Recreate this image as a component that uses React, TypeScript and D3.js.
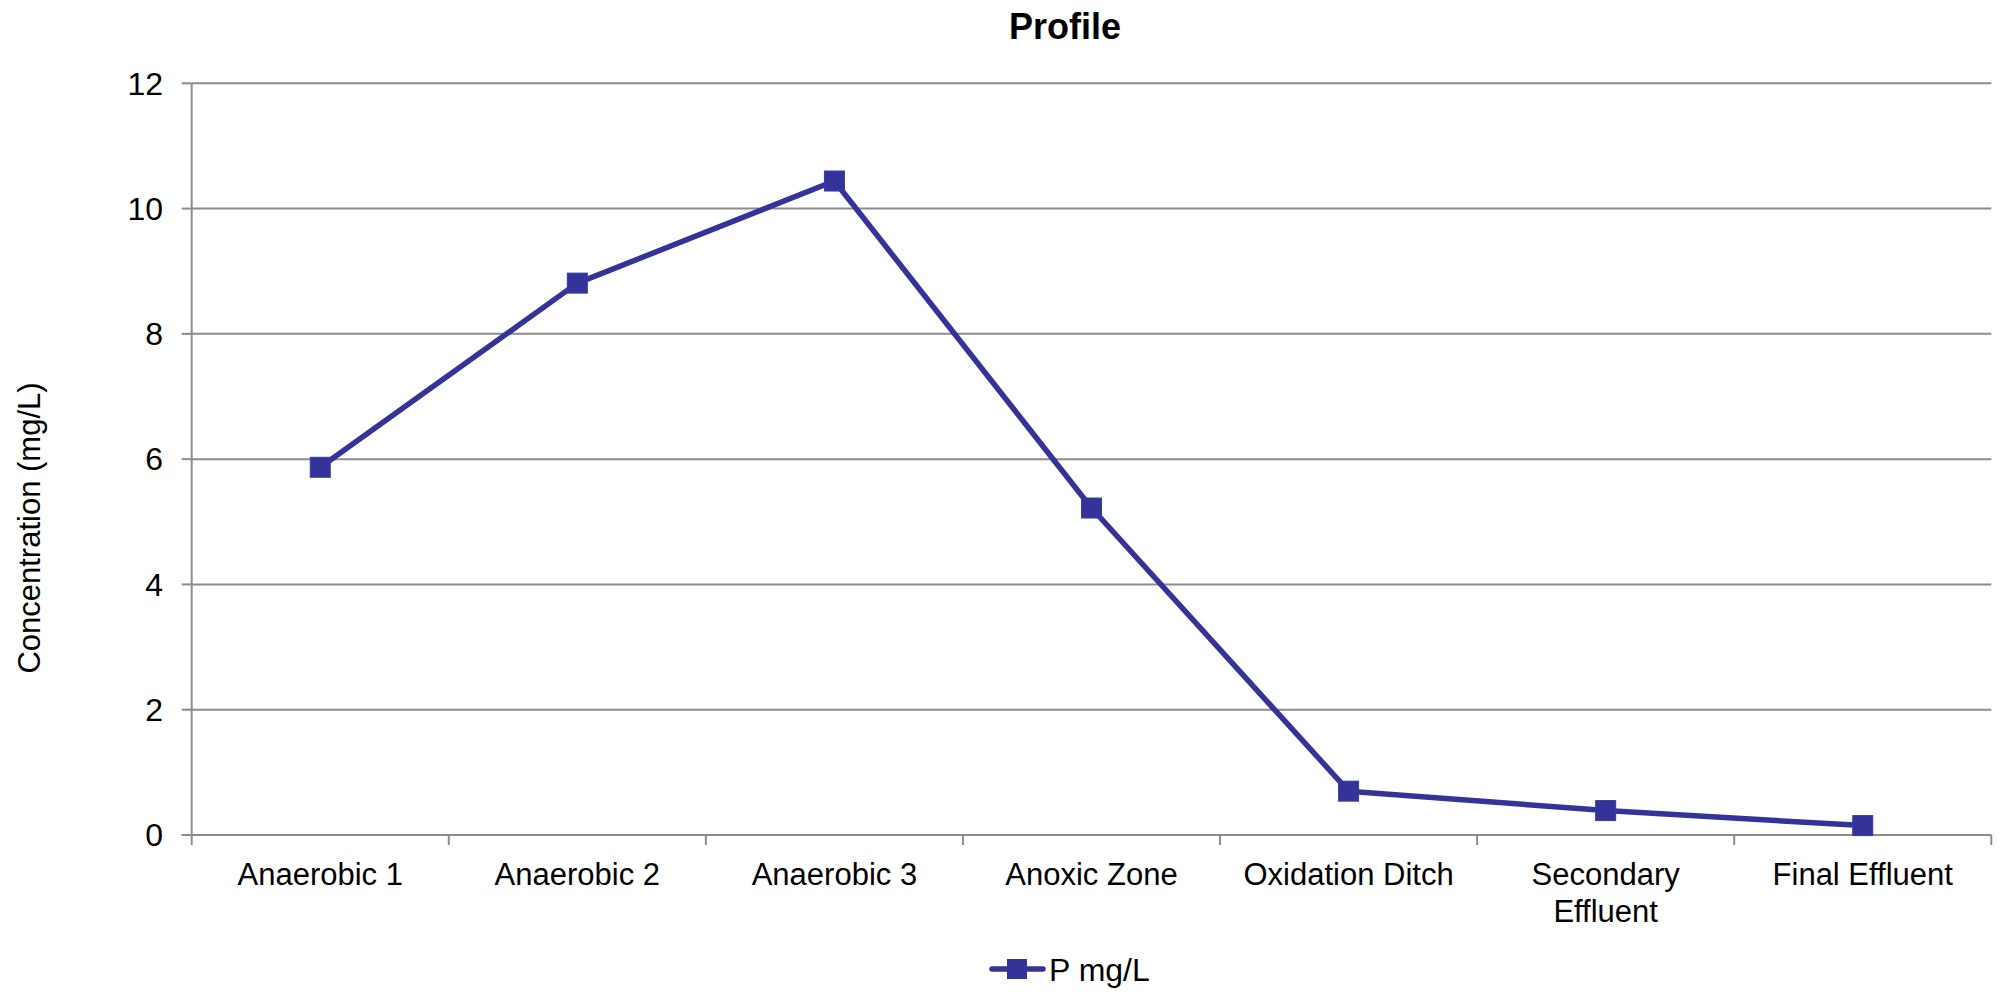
import React, { useEffect, useRef } from "react";
import * as d3 from "d3";

const categories: string[][] = [
  ["Anaerobic 1"],
  ["Anaerobic 2"],
  ["Anaerobic 3"],
  ["Anoxic Zone"],
  ["Oxidation Ditch"],
  ["Secondary", "Effluent"],
  ["Final Effluent"],
];
const pValues: number[] = [5.87, 8.81, 10.44, 5.22, 0.7, 0.39, 0.15];
const yTicks: number[] = [0, 2, 4, 6, 8, 10, 12];
const seriesName = "P mg/L";
const chartTitle = "Profile";
const yTitle = "Concentration (mg/L)";

const W = 1999;
const H = 995;
const FONT = "'Liberation Sans', Arial, sans-serif";
const LINE = "#333399";
const GRID = "#8c8c8c";

export default function App() {
  const ref = useRef<SVGSVGElement | null>(null);

  useEffect(() => {
    const svg = d3.select(ref.current);
    svg.selectAll("*").remove();

    const left = 191.7;
    const right = 1991.3;
    const top = 83.3;
    const bottom = 835;

    const x = d3
      .scaleBand<number>()
      .domain(categories.map((_, i) => i))
      .range([left, right])
      .paddingInner(0)
      .paddingOuter(0);
    const y = d3.scaleLinear().domain([0, 12]).range([bottom, top]);

    // title
    svg
      .append("text")
      .attr("x", 1065)
      .attr("y", 39)
      .attr("text-anchor", "middle")
      .attr("font-family", FONT)
      .attr("font-weight", "bold")
      .attr("font-size", 36)
      .attr("fill", "#000")
      .text(chartTitle);

    // gridlines
    svg
      .append("g")
      .selectAll("line")
      .data(yTicks.filter((t) => t !== 0))
      .join("line")
      .attr("x1", left)
      .attr("x2", right)
      .attr("y1", (d) => y(d))
      .attr("y2", (d) => y(d))
      .attr("stroke", GRID)
      .attr("stroke-width", 2);

    // y axis
    svg
      .append("line")
      .attr("x1", left)
      .attr("x2", left)
      .attr("y1", top)
      .attr("y2", bottom)
      .attr("stroke", GRID)
      .attr("stroke-width", 2);
    svg
      .append("g")
      .selectAll("line")
      .data(yTicks)
      .join("line")
      .attr("x1", left - 10)
      .attr("x2", left)
      .attr("y1", (d) => y(d))
      .attr("y2", (d) => y(d))
      .attr("stroke", GRID)
      .attr("stroke-width", 2);
    svg
      .append("g")
      .selectAll("text")
      .data(yTicks)
      .join("text")
      .attr("x", 163)
      .attr("y", (d) => y(d))
      .attr("dy", "0.35em")
      .attr("text-anchor", "end")
      .attr("font-family", FONT)
      .attr("font-size", 32)
      .attr("fill", "#000")
      .text((d) => String(d));

    // x axis
    svg
      .append("line")
      .attr("x1", left - 10)
      .attr("x2", right)
      .attr("y1", bottom)
      .attr("y2", bottom)
      .attr("stroke", GRID)
      .attr("stroke-width", 2);
    const xTickPos = categories.map((_, i) => x(i) as number).concat([right]);
    svg
      .append("g")
      .selectAll("line")
      .data(xTickPos)
      .join("line")
      .attr("x1", (d) => d)
      .attr("x2", (d) => d)
      .attr("y1", bottom)
      .attr("y2", bottom + 10)
      .attr("stroke", GRID)
      .attr("stroke-width", 2);

    const cx = (i: number) => (x(i) as number) + x.bandwidth() / 2;

    const labels = svg
      .append("g")
      .selectAll("text")
      .data(categories)
      .join("text")
      .attr("x", (_, i) => cx(i))
      .attr("y", 885)
      .attr("text-anchor", "middle")
      .attr("font-family", FONT)
      .attr("font-size", 31)
      .attr("fill", "#000");
    labels
      .selectAll("tspan")
      .data((d) => d)
      .join("tspan")
      .attr("x", function () {
        return (this.parentNode as SVGTextElement).getAttribute("x");
      })
      .attr("dy", (_, j) => (j === 0 ? 0 : 37))
      .text((d) => d);

    // y title
    svg
      .append("text")
      .attr("transform", `translate(29,528) rotate(-90)`)
      .attr("text-anchor", "middle")
      .attr("dy", "0.35em")
      .attr("font-family", FONT)
      .attr("font-size", 31)
      .attr("fill", "#000")
      .text(yTitle);

    // line
    const line = d3
      .line<number>()
      .x((_, i) => cx(i))
      .y((d) => y(d));
    svg
      .append("path")
      .datum(pValues)
      .attr("d", line)
      .attr("fill", "none")
      .attr("stroke", LINE)
      .attr("stroke-width", 5.5)
      .attr("stroke-linejoin", "round");

    const ms = 20;
    svg
      .append("g")
      .selectAll("rect")
      .data(pValues)
      .join("rect")
      .attr("x", (_, i) => cx(i) - ms / 2)
      .attr("y", (d) => y(d) - ms / 2)
      .attr("width", ms)
      .attr("height", ms)
      .attr("fill", LINE)
      .attr("stroke", "#3a3aa0")
      .attr("stroke-width", 1);

    // legend
    const ly = 969;
    svg
      .append("line")
      .attr("x1", 992)
      .attr("x2", 1043)
      .attr("y1", ly)
      .attr("y2", ly)
      .attr("stroke", LINE)
      .attr("stroke-width", 5.5)
      .attr("stroke-linecap", "round");
    svg
      .append("rect")
      .attr("x", 1017 - ms / 2)
      .attr("y", ly - ms / 2)
      .attr("width", ms)
      .attr("height", ms)
      .attr("fill", LINE);
    svg
      .append("text")
      .attr("x", 1049)
      .attr("y", 981)
      .attr("font-family", FONT)
      .attr("font-size", 32)
      .attr("fill", "#000")
      .text(seriesName);
  }, []);

  return (
    <svg
      ref={ref}
      width={W}
      height={H}
      style={{ position: "absolute", left: 0, top: 0, background: "#fff" }}
    />
  );
}
